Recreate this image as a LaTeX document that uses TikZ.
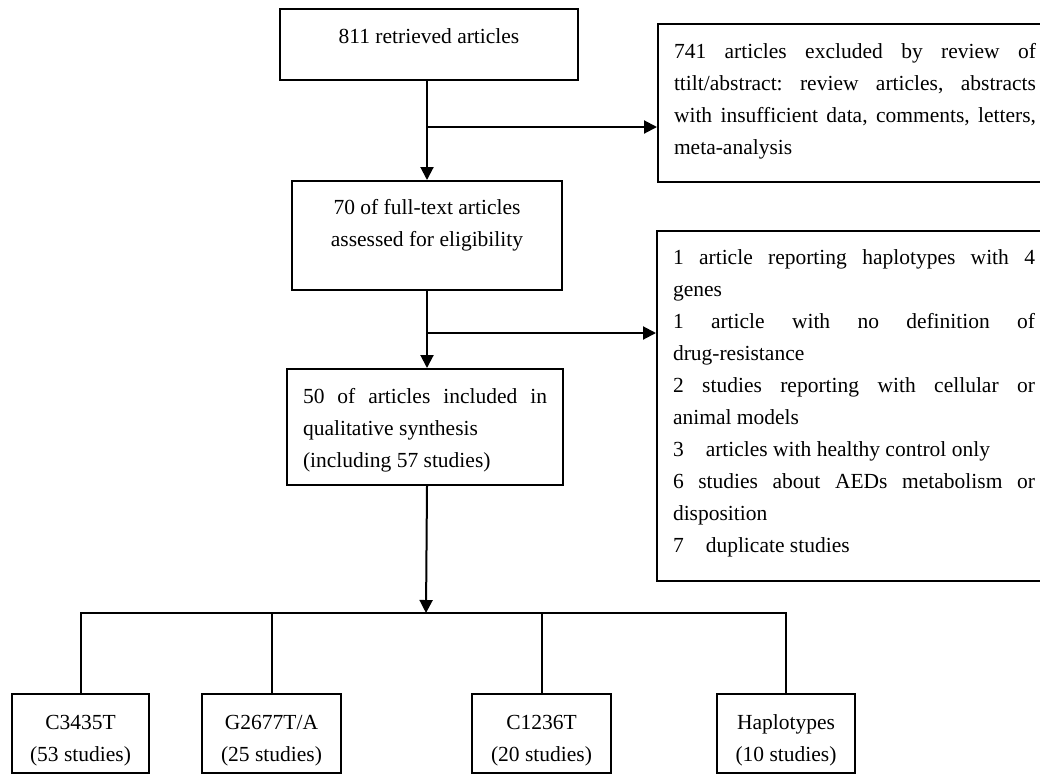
\documentclass[tikz,border=0pt]{standalone}
\usepackage{fontspec}
\setmainfont{Liberation Serif}
\usetikzlibrary{arrows.meta}
\frenchspacing
\newcommand{\myjbox}[4]{\parbox[t][#1][t]{#2}{\vspace*{#3}\leftskip=16pt\rightskip=16pt\relax\tolerance=10000\hbadness=10000\hyphenpenalty=10000\exhyphenpenalty=10000\strut #4\par}}
\newcommand{\mycbox}[4]{\parbox[t][#1][t]{#2}{\vspace*{#3}\centering\strut #4\par}}
\begin{document}
\begin{tikzpicture}[x=1pt,y=-1pt,
  boxst/.style={draw, line width=2pt, inner sep=0pt, anchor=north west,
    font=\fontsize{21.5pt}{32pt}\selectfont\frenchspacing},
  arr/.style={line width=2pt, -{Triangle[length=13pt,width=13pt]}},
  tree/.style={line width=2pt}]
\useasboundingbox (0,0) rectangle (1040,774);
\clip (0,0) rectangle (1040,774);
\fill[white] (0,0) rectangle (1040,774);

\node[boxst] (b1) at (279,8) {\mycbox{71pt}{298pt}{11.6pt}{811 retrieved articles}};
\node[boxst] (r1) at (657,23) {\myjbox{158pt}{394pt}{11.6pt}{741 articles excluded by review of\linebreak ttilt/abstract: review articles, abstracts\linebreak with insufficient data, comments, letters,\linebreak meta-analysis}};
\node[boxst] (b2) at (291,180) {\mycbox{109pt}{270pt}{10.6pt}{70 of full-text articles\\assessed for eligibility}};
\node[boxst] (r2) at (656,230) {\myjbox{350pt}{394pt}{10.6pt}{1 article reporting haplotypes with 4\linebreak genes\\ 1 article with no definition of\linebreak drug-resistance\\ 2 studies reporting with cellular or\linebreak animal models\\ 3\hspace{22pt}articles with healthy control only\\ 6 studies about AEDs metabolism or\linebreak disposition\\ 7\hspace{22pt}duplicate studies}};
\node[boxst] (b3) at (286,368) {\myjbox{116pt}{276pt}{11.6pt}{50 of articles included in\linebreak qualitative synthesis\\ (including 57 studies)}};
\node[boxst] (c1) at (11,693) {\mycbox{79pt}{137pt}{12.6pt}{C3435T\\(53 studies)}};
\node[boxst] (c2) at (201,693) {\mycbox{79pt}{139pt}{12.6pt}{G2677T/A\\(25 studies)}};
\node[boxst] (c3) at (471,693) {\mycbox{79pt}{139pt}{12.6pt}{C1236T\\(20 studies)}};
\node[boxst] (c4) at (716,693) {\mycbox{79pt}{138pt}{12.6pt}{Haplotypes\\(10 studies)}};

\coordinate (j1) at (426,127);
\coordinate (j2) at (426,333);
\coordinate (j3) at (426,613);

\draw[arr] (b2.north |- b1.south) -- (b2.north);
\draw[arr] (j1) -- (j1 -| r1.west);
\draw[arr] (b2.south) -- (b2.south |- b3.north);
\draw[arr] (j2) -- (j2 -| r2.west);
\draw[arr] (b2.south |- b3.south) -- (j3);
\draw[tree] (c1.north) |- (c4.north |- j3) -- (c4.north);
\draw[tree] (c2.north) -- (c2.north |- j3);
\draw[tree] (c3.north) -- (c3.north |- j3);
\end{tikzpicture}
\end{document}
